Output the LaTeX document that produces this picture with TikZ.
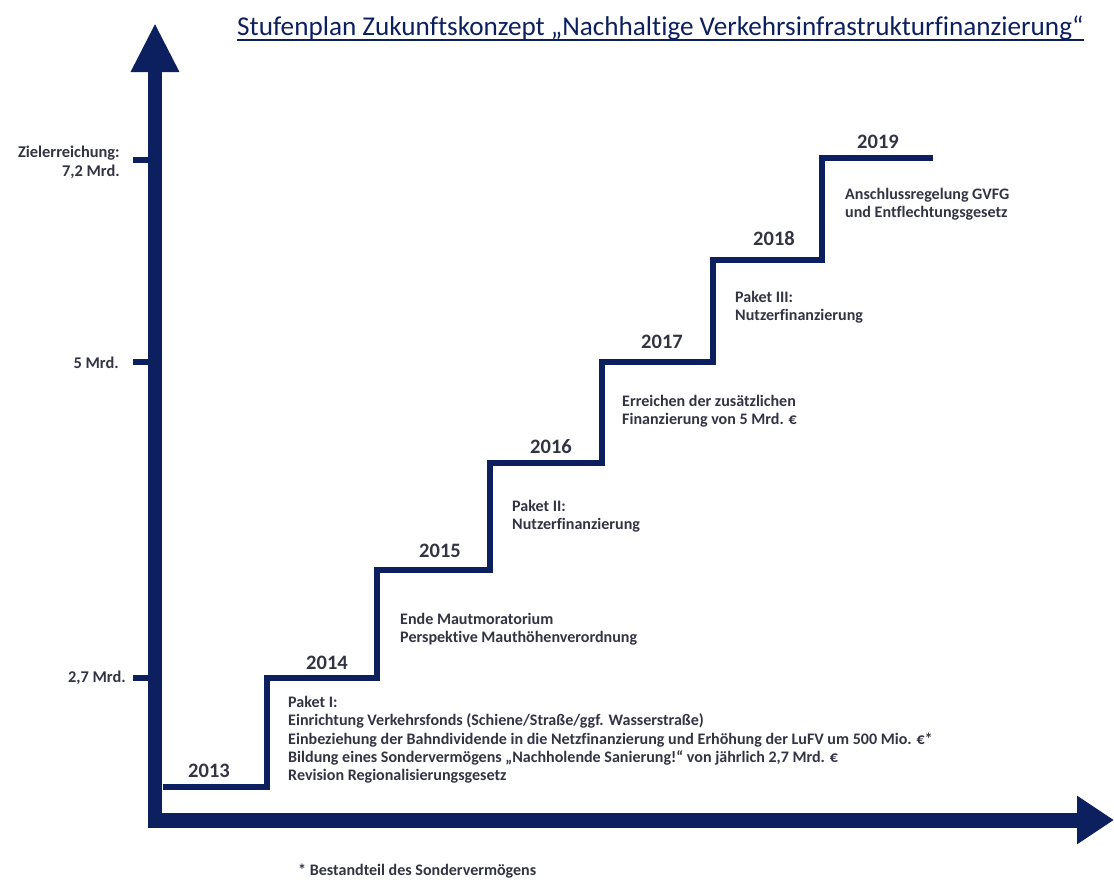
\documentclass[tikz,border=0pt]{standalone}
\usepackage{fontspec}
\setmainfont{Carlito}[Ligatures=NoCommon]
\usetikzlibrary{arrows.meta}

\definecolor{navy}{RGB}{12,32,96}
\definecolor{schrift}{RGB}{50,52,68}

\begin{document}
\begin{tikzpicture}[x=0.03cm, y=-0.03cm,
  axisline/.style={navy, line width=12.8pt, line join=miter},
  stair/.style={navy, line width=4.3pt, line join=miter},
  axtick/.style={navy, line width=4.3pt},
  year/.style={schrift, font=\bfseries\fontsize{17.5}{20}\selectfont},
  info/.style={schrift, anchor=north west, align=left, inner sep=0pt,
    font=\bfseries\fontsize{13.7}{15.6}\selectfont},
  marke/.style={schrift, anchor=east, align=right, inner sep=0pt,
    font=\bfseries\fontsize{14}{16}\selectfont}]

\useasboundingbox (0,0) rectangle (1114,882);

% Titel
\node[navy, anchor=base west, inner sep=0pt, font=\fontsize{23.2}{26}\selectfont] (titel) at (237,35)
  {Stufenplan Zukunftskonzept „Nachhaltige Verkehrsinfrastrukturfinanzierung“};
\draw[navy, line width=1.7pt] ([yshift=-4.3pt]titel.base west) -- ([yshift=-4.3pt]titel.base east);

% Achsen
\draw[axisline, {Triangle[length=1.47cm,width=1.35cm]}-{Triangle[length=1.11cm,width=1.38cm]}]
  (155,23) -- (155,820) -- (1114,820);

% Markierungen
\draw[axtick] (133,160) -- (148,160);
\draw[axtick] (133,362) -- (148,362);
\draw[axtick] (133,678) -- (148,678);

\node[marke] (ziel) at (120,162) {Zielerreichung:\\7,2 Mrd.};
\node[marke] (fuenf) at (119,363) {5 Mrd.};
\node[marke] (zwei) at (126,678) {2,7 Mrd.};

% Treppe
\draw[stair] (163,787) -- (267,787) -- (267,678) -- (377,678) -- (377,570)
  -- (490,570) -- (490,463) -- (602,463) -- (602,362) -- (713,362)
  -- (713,260) -- (822,260) -- (822,158) -- (933,158);

% Jahre
\node[year] (j2013) at (209,771) {2013};
\node[year] (j2014) at (327,663) {2014};
\node[year] (j2015) at (440,551) {2015};
\node[year] (j2016) at (551,447) {2016};
\node[year] (j2017) at (662,342) {2017};
\node[year] (j2018) at (774,238) {2018};
\node[year] (j2019) at (878,142) {2019};

% Massnahmen
\node[info] (paket1) at (288,696) {Paket I:\\
  Einrichtung Verkehrsfonds (Schiene/Straße/ggf. Wasserstraße)\\
  Einbeziehung der Bahndividende in die Netzfinanzierung und Erhöhung der LuFV um 500 Mio. €*\\
  Bildung eines Sondervermögens „Nachholende Sanierung!“ von jährlich 2,7 Mrd. €\\
  Revision Regionalisierungsgesetz};
\node[info] (maut) at (400,613) {Ende Mautmoratorium\\Perspektive Mauthöhenverordnung};
\node[info] (paket2) at (512,500) {Paket II:\\Nutzerfinanzierung};
\node[info] (erreichen) at (622,395) {Erreichen der zusätzlichen\\Finanzierung von 5 Mrd. €};
\node[info] (paket3) at (735,291) {Paket III:\\Nutzerfinanzierung};
\node[info] (gvfg) at (845,188) {Anschlussregelung GVFG\\und Entflechtungsgesetz};

% Fussnote
\node[info] (fussnote) at (298,864) {* Bestandteil des Sondervermögens};

\end{tikzpicture}
\end{document}
